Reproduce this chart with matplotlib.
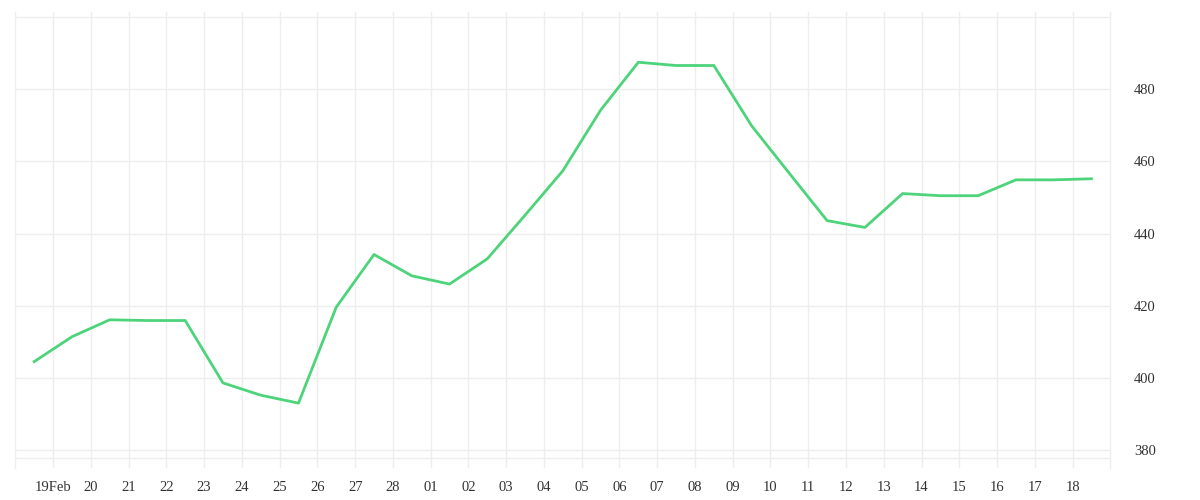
import datetime as dt
import matplotlib
matplotlib.use("Agg")
import matplotlib.pyplot as plt
import matplotlib.dates as mdates
from matplotlib.ticker import FuncFormatter

# daily values, one point per day (plotted at noon)
start = dt.datetime(2023, 2, 18, 12)
values = [404.5, 411.4, 416.1, 415.9, 415.9, 398.6, 395.2, 393.0, 419.6, 434.2,
          428.3, 426.0, 433.0, 445.1, 457.4, 474.2, 487.5, 486.6, 486.6, 469.9,
          456.7, 443.6, 441.7, 451.1, 450.5, 450.5, 454.9, 454.9, 455.2]
dates = [start + dt.timedelta(days=i) for i in range(len(values))]

y_ticks = [380, 400, 420, 440, 460, 480, 500]
y_labels = ["380", "400", "420", "440", "460", "480", ""]

line_col = "#4dd47a"
grid_col = "#eeeeee"
txt_col = "#333333"

fig = plt.figure(figsize=(12, 5), dpi=100)
ax = fig.add_axes([0.01275, 0.0634, 0.9125, 0.912])

ax.plot(dates, values, color=line_col, lw=2.0, solid_joinstyle="round", zorder=3)

x0 = dt.datetime(2023, 2, 18)
x1 = dt.datetime(2023, 3, 19)
ax.set_xlim(x0, x1)
ax.set_ylim(374.93, 501.35)

day_ticks = [x0 + dt.timedelta(days=i) for i in range(1, 29)]
ax.set_xticks(day_ticks)


def fmt_day(x, pos):
    d = mdates.num2date(x)
    if pos == 0:
        return d.strftime("%d%b")
    return d.strftime("%d")


ax.xaxis.set_major_formatter(FuncFormatter(fmt_day))
ax.set_yticks(y_ticks)
ax.set_yticklabels(y_labels)
ax.yaxis.tick_right()

ax.grid(True, color=grid_col, lw=1.0, zorder=0)
ax.axhline(377.7, color=grid_col, lw=1.0, zorder=0)

for s in ["top", "bottom"]:
    ax.spines[s].set_visible(False)
for s in ["left", "right"]:
    ax.spines[s].set_color(grid_col)
    ax.spines[s].set_linewidth(1.0)

ax.tick_params(axis="both", length=0, labelsize=10.5, colors=txt_col)
ax.tick_params(axis="x", pad=9)
ax.tick_params(axis="y", pad=17)
for lab in ax.get_xticklabels() + ax.get_yticklabels():
    lab.set_fontfamily("Liberation Serif")

fig.savefig("out.png", dpi=100)
